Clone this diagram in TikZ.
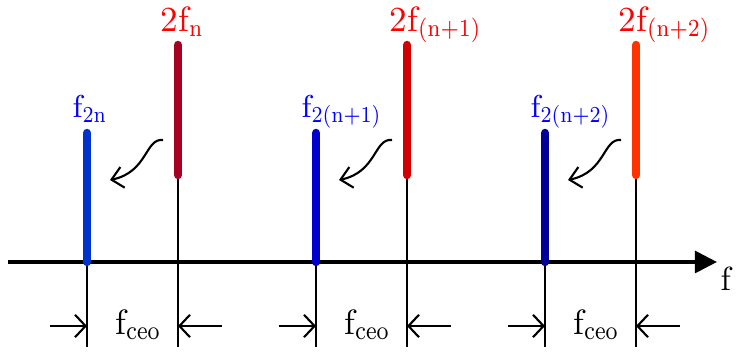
\documentclass[tikz,border=0pt]{standalone}
\usetikzlibrary{arrows.meta,calc}

\definecolor{blueA}{RGB}{0,51,204}
\definecolor{blueB}{RGB}{0,0,204}
\definecolor{blueC}{RGB}{0,0,153}
\definecolor{redA}{RGB}{165,0,33}
\definecolor{redB}{RGB}{210,0,0}
\definecolor{redC}{RGB}{255,51,0}
\definecolor{labred}{RGB}{255,0,0}
\definecolor{labblue}{RGB}{0,0,255}

% small text subscript, sitting just under the baseline
\newcommand{\lowsub}[2][7]{\raisebox{-0.3ex}{\scalebox{0.85}[1]{\fontsize{#1}{#1}\selectfont #2}}}

\begin{document}
\begin{tikzpicture}[
  x=0.01cm, y=-0.01cm,
  axis/.style ={-{Triangle[length=6.3pt,width=6.2pt]}, line width=1.1pt},
  guide/.style={line width=0.6pt},
  bar/.style  ={line width=2.4pt, line cap=round},
  wavy/.style ={-{Straight Barb[length=3.2pt,width=6pt]}, line width=0.6pt},
  dimarr/.style={-{Straight Barb[length=3pt,width=6.4pt]}, line width=0.6pt},
  redlab/.style ={anchor=base west, inner sep=0pt, text=labred, font=\fontsize{10}{12}\selectfont},
  bluelab/.style={anchor=base west, inner sep=0pt, text=labblue, font=\fontsize{9}{11}\selectfont},
]
\useasboundingbox (0,0) rectangle (736,352);
\def\D{229}   % spacing between comb groups

% ============================== guides & axis ==============================
\foreach \i in {0,1,2}{
  \pgfmathsetmacro{\bx}{87+\i*\D}
  \pgfmathsetmacro{\rx}{178+\i*\D}
  \coordinate (bt\i) at (\bx,133);  \coordinate (ba\i) at (\bx,262);  \coordinate (bb\i) at (\bx,347);
  \coordinate (rt\i) at (\rx,45);   \coordinate (ra\i) at (\rx,175);  \coordinate (rb\i) at (\rx,347);
  \draw[guide] (ba\i) -- (bb\i);
  \draw[guide] (ra\i) -- (rb\i);
}
\coordinate (ax0) at (8,262);
\coordinate (ax1) at (717,262);
\draw[axis] (ax0) -- (ax1);
\node[anchor=base west, inner sep=0pt, font=\fontsize{9.5}{11}\selectfont] (flab) at (720,291) {f};

% ============================== comb lines & labels ==============================
\foreach \i/\bc/\rc/\bs/\rs in {0/blueA/redA/{2n}/{n},
                               1/blueB/redB/{2(n+1)}/{(n+1)},
                               2/blueC/redC/{2(n+2)}/{(n+2)}}{
  \draw[bar, draw=\bc] (bt\i) -- (ba\i);
  \draw[bar, draw=\rc] (rt\i) -- (ra\i);
  \node[redlab]  (rl\i) at ($(rt\i)+(-18,-13)$) {2f\lowsub{\rs}};
  \node[bluelab] (bl\i) at ($(bt\i)+(-15,-15)$) {f\lowsub[6.5]{\bs}};
  % halving: wavy arrow from the doubled line down to the comb line
  \coordinate (ws\i) at ($(rt\i)+(-15,95)$);
  \coordinate (we\i) at ($(rt\i)+(-68,135)$);
  \draw[wavy] (ws\i) .. controls ($(ws\i)+(-18,-2)$) and ($(we\i)+(38,-8)$) .. (we\i);
  % offset marker below the axis
  \coordinate (dl\i) at ($(bb\i)+(-37,-21)$);
  \coordinate (dr\i) at ($(rb\i)+(44,-21)$);
  \draw[dimarr] (dl\i) -- (dl\i -| bb\i);
  \draw[dimarr] (dr\i) -- (dr\i -| rb\i);
  \node[anchor=base west, inner sep=0pt, font=\fontsize{10}{12}\selectfont] (fc\i) at ($(bb\i)+(28,-12)$) {f\lowsub[7.5]{ceo}};
}
\end{tikzpicture}
\end{document}
